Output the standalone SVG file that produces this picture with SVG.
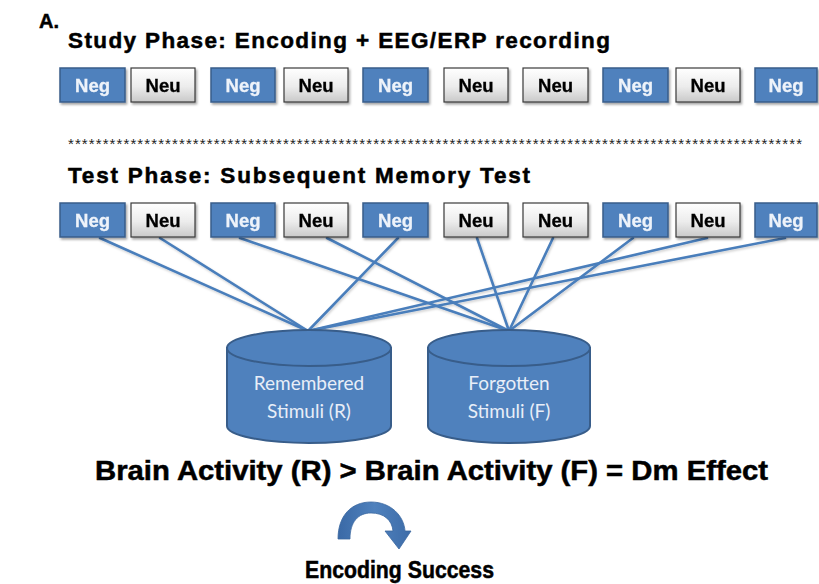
<svg xmlns="http://www.w3.org/2000/svg" width="819" height="584" viewBox="0 0 819 584">
  <defs>
    <linearGradient id="neuFill" x1="0" y1="0" x2="0" y2="1">
      <stop offset="0" stop-color="#ffffff"/>
      <stop offset="0.55" stop-color="#ececec"/>
      <stop offset="1" stop-color="#c9c9c9"/>
    </linearGradient>
    <linearGradient id="arrowFill" x1="0" y1="0" x2="1" y2="0">
      <stop offset="0" stop-color="#3a69a6"/>
      <stop offset="0.5" stop-color="#4f81bd"/>
      <stop offset="1" stop-color="#3d6ca8"/>
    </linearGradient>
    <filter id="shadow" x="-10%" y="-10%" width="125%" height="135%">
      <feDropShadow dx="1.5" dy="2" stdDeviation="1.2" flood-color="#000" flood-opacity="0.35"/>
    </filter>
    <filter id="lineShadow" x="-5%" y="-5%" width="110%" height="115%">
      <feDropShadow dx="1" dy="1.5" stdDeviation="0.8" flood-color="#000" flood-opacity="0.2"/>
    </filter>
  </defs>
  <style>
    .title { font-family: "Liberation Sans", Arial, sans-serif; font-weight: bold; fill: #000; stroke: #000; stroke-width: 0.5; }
    .neg rect { fill: #4f81bd; stroke: #385d8a; stroke-width: 1.5; }
    .neu rect { fill: url(#neuFill); stroke: #3a3a3a; stroke-width: 1.2; }
    .box { filter: url(#shadow); }
    .lbl { font-family: "Liberation Sans", Arial, sans-serif; font-weight: bold; font-size: 18.5px; text-anchor: middle; }
    .neg text { fill: #eef3fa; stroke: #eef3fa; stroke-width: 0.3; }
    .neu text { fill: #000; stroke: #000; stroke-width: 0.3; }
    .conn line { stroke: #4a7ebb; stroke-width: 2.6; stroke-linecap: round; }
    .cyl path, .cyl ellipse { fill: #4f81bd; stroke: #385d8a; stroke-width: 2; }
    .cyl text { font-family: Lato, "Liberation Sans", sans-serif; font-size: 19px; fill: #e8eef8; text-anchor: middle; }
  </style>

  <rect width="819" height="584" fill="#ffffff"/>

  <!-- headings -->
  <text class="title" x="39" y="28" font-size="20" stroke-width="0.2">A.</text>
  <text class="title" x="68" y="48" font-size="22.5" textLength="542" lengthAdjust="spacing">Study Phase: Encoding + EEG/ERP recording</text>
  <text x="68" y="149" font-family="Liberation Sans, Arial, sans-serif" font-size="15" fill="#222" textLength="734" lengthAdjust="spacing">**********************************************************************************************************</text>
  <text class="title" x="68" y="183" font-size="22.5" textLength="462" lengthAdjust="spacing">Test Phase: Subsequent Memory Test</text>

  <!-- connectors: test items to outcome bins -->
  <g id="connectors" class="conn" filter="url(#lineShadow)">
    <line x1="100" y1="238" x2="308" y2="331"/>
    <line x1="160" y1="238" x2="308" y2="331"/>
    <line x1="398" y1="238" x2="308" y2="331"/>
    <line x1="707" y1="238" x2="308" y2="331"/>
    <line x1="785" y1="238" x2="308" y2="331"/>
    <line x1="240" y1="238" x2="509" y2="331"/>
    <line x1="327" y1="238" x2="509" y2="331"/>
    <line x1="477" y1="238" x2="509" y2="331"/>
    <line x1="553" y1="238" x2="509" y2="331"/>
    <line x1="633" y1="238" x2="509" y2="331"/>
  </g>

  <!-- study phase sequence -->
  <g id="study-1" class="box neg"><rect x="60" y="68" width="65" height="34"/><text class="lbl" x="92.5" y="91.5">Neg</text></g>
  <g id="study-2" class="box neu"><rect x="131" y="68" width="64" height="34"/><text class="lbl" x="163" y="91.5">Neu</text></g>
  <g id="study-3" class="box neg"><rect x="211" y="68" width="64" height="34"/><text class="lbl" x="243" y="91.5">Neg</text></g>
  <g id="study-4" class="box neu"><rect x="284" y="68" width="64" height="34"/><text class="lbl" x="316" y="91.5">Neu</text></g>
  <g id="study-5" class="box neg"><rect x="363" y="68" width="65" height="34"/><text class="lbl" x="395.5" y="91.5">Neg</text></g>
  <g id="study-6" class="box neu"><rect x="444" y="68" width="64" height="34"/><text class="lbl" x="476" y="91.5">Neu</text></g>
  <g id="study-7" class="box neu"><rect x="523" y="68" width="65" height="34"/><text class="lbl" x="555.5" y="91.5">Neu</text></g>
  <g id="study-8" class="box neg"><rect x="603" y="68" width="65" height="34"/><text class="lbl" x="635.5" y="91.5">Neg</text></g>
  <g id="study-9" class="box neu"><rect x="676" y="68" width="64" height="34"/><text class="lbl" x="708" y="91.5">Neu</text></g>
  <g id="study-10" class="box neg"><rect x="755" y="68" width="62" height="34"/><text class="lbl" x="786" y="91.5">Neg</text></g>

  <!-- test phase sequence -->
  <g id="test-1" class="box neg"><rect x="60" y="203" width="65" height="34"/><text class="lbl" x="92.5" y="226.5">Neg</text></g>
  <g id="test-2" class="box neu"><rect x="131" y="203" width="64" height="34"/><text class="lbl" x="163" y="226.5">Neu</text></g>
  <g id="test-3" class="box neg"><rect x="211" y="203" width="64" height="34"/><text class="lbl" x="243" y="226.5">Neg</text></g>
  <g id="test-4" class="box neu"><rect x="284" y="203" width="64" height="34"/><text class="lbl" x="316" y="226.5">Neu</text></g>
  <g id="test-5" class="box neg"><rect x="363" y="203" width="65" height="34"/><text class="lbl" x="395.5" y="226.5">Neg</text></g>
  <g id="test-6" class="box neu"><rect x="444" y="203" width="64" height="34"/><text class="lbl" x="476" y="226.5">Neu</text></g>
  <g id="test-7" class="box neu"><rect x="523" y="203" width="65" height="34"/><text class="lbl" x="555.5" y="226.5">Neu</text></g>
  <g id="test-8" class="box neg"><rect x="603" y="203" width="65" height="34"/><text class="lbl" x="635.5" y="226.5">Neg</text></g>
  <g id="test-9" class="box neu"><rect x="676" y="203" width="64" height="34"/><text class="lbl" x="708" y="226.5">Neu</text></g>
  <g id="test-10" class="box neg"><rect x="755" y="203" width="62" height="34"/><text class="lbl" x="786" y="226.5">Neg</text></g>

  <!-- outcome bins -->
  <g id="remembered" class="cyl">
    <path d="M 227 348 L 227 426 A 82 17 0 0 0 391 426 L 391 348 Z"/>
    <ellipse cx="309" cy="348" rx="82" ry="18"/>
    <text x="309" y="390">Remembered</text>
    <text x="309" y="418">Stimuli (R)</text>
  </g>
  <g id="forgotten" class="cyl">
    <path d="M 428 348 L 428 426 A 81 17 0 0 0 590 426 L 590 348 Z"/>
    <ellipse cx="509" cy="348" rx="81" ry="18"/>
    <text x="509" y="390">Forgotten</text>
    <text x="509" y="418">Stimuli (F)</text>
  </g>

  <!-- result statement -->
  <text class="title" x="95" y="480" font-size="27" stroke-width="0.8" textLength="673" lengthAdjust="spacingAndGlyphs">Brain Activity (R) &gt; Brain Activity (F) = Dm Effect</text>

  <!-- curved arrow -->
  <g id="curved-arrow">
    <path d="M 338 539 C 338 516, 351 502, 371 502 C 391 502, 404 516, 405 531 L 411 531 L 399 549 L 385 531 L 393 531 C 392 520, 384 513, 371 513 C 358 513, 350 522, 350 539 Z" fill="url(#arrowFill)" stroke="#3a67a0" stroke-width="0.8"/>
  </g>

  <text class="title" x="305" y="578" font-size="23" stroke-width="0.7" textLength="189" lengthAdjust="spacingAndGlyphs">Encoding Success</text>
</svg>
